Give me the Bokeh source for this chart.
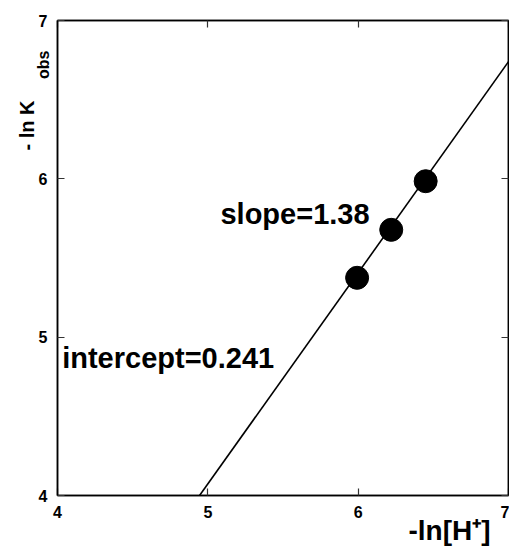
from bokeh.plotting import figure
from bokeh.models import Range1d, FixedTicker, LinearAxis, Label, Title
from bokeh.embed import file_html
from bokeh.resources import INLINE

# data
x_obs = [5.993, 6.22, 6.449]
y_obs = [5.375, 5.678, 5.985]
fit_x = [4.945, 7.0]
fit_y = [4.0, 6.74]
ticks = [4, 5, 6, 7]
slope_text = "slope=1.38"
intercept_text = "intercept=0.241"
x_title = "-ln[H\u207a]"
y_title = "- ln K"
y_sub = "obs"
y_sub_at = 6.72  # where the subscript of the y title sits along the y axis

FONT = "Liberation Sans"

p = figure(width=509, height=549, output_backend="svg", toolbar_location=None,
           x_range=Range1d(4, 7), y_range=Range1d(4, 7),
           min_border_left=57, min_border_right=1, min_border_top=20, min_border_bottom=54,
           x_axis_location=None, y_axis_location=None)
p.grid.visible = False
p.outline_line_color = "black"
p.outline_line_width = 1.5
p.background_fill_color = "white"
p.border_fill_color = "white"


def style_axis(ax, show_labels):
    ax.ticker = FixedTicker(ticks=ticks)
    ax.axis_line_color = "black"
    ax.axis_line_width = 1.5
    ax.major_tick_line_color = "#333333"
    ax.major_tick_line_width = 1.2
    ax.major_tick_in = 7
    ax.major_tick_out = 0
    ax.minor_tick_line_color = None
    if show_labels:
        ax.major_label_text_font = FONT
        ax.major_label_text_font_style = "bold"
        ax.major_label_text_font_size = "16px"
        ax.major_label_text_color = "black"
    else:
        ax.major_label_overrides = {t: "" for t in ticks}
        ax.major_label_standoff = 0


bottom = LinearAxis()
style_axis(bottom, True)
bottom.major_label_standoff = 10
p.add_layout(bottom, "below")

left = LinearAxis()
style_axis(left, True)
left.major_label_standoff = 10
p.add_layout(left, "left")

# invisible helper axis whose single (rotated) tick label is the subscript of the y title
sub_axis = LinearAxis(ticker=FixedTicker(ticks=[y_sub_at]))
sub_axis.axis_line_color = None
sub_axis.major_tick_line_color = None
sub_axis.minor_tick_line_color = None
sub_axis.major_tick_in = 0
sub_axis.major_tick_out = 0
sub_axis.major_label_overrides = {y_sub_at: y_sub}
sub_axis.major_label_orientation = "vertical"
sub_axis.major_label_text_font = FONT
sub_axis.major_label_text_font_style = "bold"
sub_axis.major_label_text_font_size = "16px"
sub_axis.major_label_text_color = "black"
sub_axis.major_label_standoff = -17
p.add_layout(sub_axis, "left")

top = LinearAxis()
style_axis(top, False)
p.add_layout(top, "above")

right = LinearAxis()
style_axis(right, False)
p.add_layout(right, "right")

p.line(fit_x, fit_y, line_color="black", line_width=1.6)
p.scatter(x_obs, y_obs, size=23, fill_color="black", line_color="black")

lab_kw = dict(text_font=FONT, text_font_style="bold", text_color="black")

p.add_layout(Label(x=5.084, y=5.781, text=slope_text, text_font_size="29px",
                   text_baseline="alphabetic", **lab_kw))
p.add_layout(Label(x=4.031, y=4.867, text=intercept_text, text_font_size="29px",
                   text_baseline="alphabetic", **lab_kw))

# main y title, outside the left axes
yt = Title(text=y_title, align="right", vertical_align="bottom", offset=80, standoff=-11,
           text_font=FONT, text_font_style="bold", text_font_size="20px", text_color="black")
p.add_layout(yt, "left")

# x title, below the bottom axis
xt = Title(text=x_title, align="right", vertical_align="bottom", offset=18, standoff=-16,
           text_font=FONT, text_font_style="bold", text_font_size="28px", text_color="black")
p.add_layout(xt, "below")

open("out.html", "w").write(file_html(p, INLINE))
